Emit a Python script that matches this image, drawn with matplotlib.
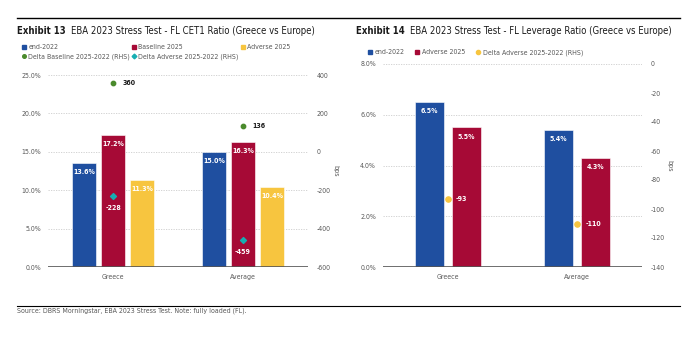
import matplotlib
matplotlib.use("Agg")
import matplotlib.pyplot as plt
from matplotlib import font_manager as fm
from matplotlib.lines import Line2D
import numpy as np

# ---------------- data ----------------
categories = ["Greece", "Average"]
cet1_end2022 = [13.6, 15.0]
cet1_baseline2025 = [17.2, 16.3]
cet1_adverse2025 = [11.3, 10.4]
cet1_delta_baseline = [360, 136]
cet1_delta_adverse = [-228, -459]

lev_end2022 = [6.5, 5.4]
lev_adverse2025 = [5.5, 4.3]
lev_delta_adverse = [-93, -110]

cet1_left_ticks = [0, 5, 10, 15, 20, 25]
cet1_right_ticks = [-600, -400, -200, 0, 200, 400]
lev_left_ticks = [0, 2, 4, 6, 8]
lev_right_ticks = [-140, -120, -100, -80, -60, -40, -20, 0]

# ---------------- font choice (prefer a narrow face) ----------------
entries = [(f.name, str(f.stretch)) for f in fm.fontManager.ttflist]
names = {n for n, _ in entries}
if "Liberation Sans Narrow" in names:
    plt.rcParams['font.family'] = ['Liberation Sans Narrow', 'DejaVu Sans']
elif any(n == "DejaVu Sans" and "condensed" in s for n, s in entries):
    plt.rcParams['font.family'] = ['DejaVu Sans']
    plt.rcParams['font.stretch'] = 'condensed'
elif "Liberation Sans" in names:
    plt.rcParams['font.family'] = ['Liberation Sans', 'DejaVu Sans']
else:
    plt.rcParams['font.family'] = ['DejaVu Sans']

# ---------------- style ----------------
BLUE = "#1F4FA0"
RED = "#A60A36"
YELLOW = "#F7C53F"
GREEN = "#4A8A2C"
TEAL = "#16AEB2"
GRAY = "#595959"
DARK = "#1A1A1A"

W, H = 698, 337
fig = plt.figure(figsize=(W / 100, H / 100), dpi=100)
renderer = fig.canvas.get_renderer()

# measure the font so the title spans the reference width (~240 px)
_probe = fig.text(0, 0, "EBA 2023 Stress Test - FL CET1 Ratio (Greece vs Europe)", fontsize=7.6)
_w = _probe.get_window_extent(renderer).width
_probe.remove()
k = 240.0 / _w
TFS = 7.6 * min(1.15, max(0.7, k))
FS = 5.6 * min(1.1, max(0.85, k))


def fx(px):
    return px / W


def fy(py):
    return 1 - py / H


def style_axes(ax, ax2, lticks, rticks, lfmt):
    ax.set_yticks(lticks)
    ax.set_yticklabels([lfmt(t) for t in lticks])
    ax2.set_yticks(rticks)
    ax2.set_yticklabels([str(t) for t in rticks])
    for a in (ax, ax2):
        for s in a.spines.values():
            s.set_visible(False)
        a.tick_params(axis='both', length=0, labelsize=FS, colors=GRAY)
    ax.tick_params(axis='y', pad=5)
    ax2.tick_params(axis='y', pad=6)
    ax.tick_params(axis='x', pad=5)
    for t in lticks[1:]:
        ax.axhline(t, color="#CCCCCC", lw=0.6, ls=(0, (1.5, 1.5)), zorder=0)
    ax.axhline(0, color="#555555", lw=1.2, zorder=3)
    ax2.set_ylabel("bps", fontsize=FS, color=GRAY, rotation=270, labelpad=6)


# ---------------- left chart: CET1 ----------------
axL = fig.add_axes([fx(48), fy(267), fx(260), (267 - 75) / H])
axL2 = axL.twinx()
x = np.arange(len(categories))
bw = 0.18
off = 0.222
series = [(cet1_end2022, BLUE, -off), (cet1_baseline2025, RED, 0), (cet1_adverse2025, YELLOW, off)]
for vals, col, o in series:
    bars = axL.bar(x + o, vals, bw, color=col, edgecolor="white", linewidth=0.4, zorder=2)
    for b, v in zip(bars, vals):
        axL.annotate(f"{v:.1f}%", (b.get_x() + b.get_width() / 2, v), xytext=(0, -4.5),
                     textcoords="offset points", ha="center", va="top",
                     fontsize=FS, color="white", fontweight="bold", zorder=5)
axL.set_xlim(-0.5, 1.5)
axL.set_ylim(0, 25)
axL2.set_ylim(-600, 400)
axL.set_xticks(x)
axL.set_xticklabels(categories)
style_axes(axL, axL2, cet1_left_ticks, cet1_right_ticks, lambda t: f"{t:.1f}%")

axL2.scatter(x, cet1_delta_baseline, s=10, color=GREEN, marker="o", zorder=6)
axL2.scatter(x, cet1_delta_adverse, s=9, color=TEAL, marker="D", zorder=6)
for xi, v in zip(x, cet1_delta_baseline):
    axL2.annotate(f"{v}", (xi, v), xytext=(7, 0), textcoords="offset points",
                  ha="left", va="center", fontsize=FS, color=DARK, fontweight="bold")
for xi, v in zip(x, cet1_delta_adverse):
    axL2.annotate(f"{v}", (xi, v), xytext=(0, -6.5), textcoords="offset points",
                  ha="center", va="top", fontsize=FS, color="white", fontweight="bold")

# ---------------- right chart: leverage ----------------
axR = fig.add_axes([fx(383), fy(267), fx(259), (267 - 64) / H])
axR2 = axR.twinx()
bw2 = 0.225
off2 = 0.143
for vals, col, o in [(lev_end2022, BLUE, -off2), (lev_adverse2025, RED, off2)]:
    bars = axR.bar(x + o, vals, bw2, color=col, edgecolor="white", linewidth=0.4, zorder=2)
    for b, v in zip(bars, vals):
        axR.annotate(f"{v:.1f}%", (b.get_x() + b.get_width() / 2, v), xytext=(0, -4.5),
                     textcoords="offset points", ha="center", va="top",
                     fontsize=FS, color="white", fontweight="bold", zorder=5)
axR.set_xlim(-0.5, 1.5)
axR.set_ylim(0, 8)
axR2.set_ylim(-140, 0)
axR.set_xticks(x)
axR.set_xticklabels(categories)
style_axes(axR, axR2, lev_left_ticks, lev_right_ticks, lambda t: f"{t:.1f}%")
axR2.scatter(x, lev_delta_adverse, s=14, color=YELLOW, marker="o", zorder=6)
for xi, v in zip(x, lev_delta_adverse):
    axR2.annotate(f"{v}", (xi, v), xytext=(6, 0), textcoords="offset points",
                  ha="left", va="center", fontsize=FS, color="white", fontweight="bold")

# ---------------- titles, lines, legends ----------------
fig.add_artist(Line2D([fx(17), fx(680)], [fy(18), fy(18)], color="black", lw=1.0))
fig.add_artist(Line2D([fx(17), fx(680)], [fy(305.5), fy(305.5)], color="black", lw=0.8))


def title(xpx, num, text):
    t1 = fig.text(fx(xpx), fy(31), num, fontsize=TFS, fontweight="bold", color=DARK, va="center")
    w1 = t1.get_window_extent(renderer).width
    fig.text(fx(xpx + w1 + 5), fy(31), text, fontsize=TFS, color=DARK, va="center")


title(17, "Exhibit 13", "EBA 2023 Stress Test - FL CET1 Ratio (Greece vs Europe)")
title(356, "Exhibit 14", "EBA 2023 Stress Test - FL Leverage Ratio (Greece vs Europe)")
fig.text(fx(17), fy(311), "Source: DBRS Morningstar, EBA 2023 Stress Test. Note: fully loaded (FL).",
         fontsize=FS, color=GRAY, va="center")


def h(marker, col, ms=3.2):
    return Line2D([], [], marker=marker, color=col, ls="none", markersize=ms)


legL_handles = [h("s", BLUE), h("o", GREEN, 2.6), h("s", RED), h("D", TEAL, 2.4), h("s", YELLOW)]
legL_labels = ["end-2022", "Delta Baseline 2025-2022 (RHS)", "Baseline 2025",
               "Delta Adverse 2025-2022 (RHS)", "Adverse 2025"]
legL = fig.legend(legL_handles, legL_labels, loc="upper left", bbox_to_anchor=(fx(22), fy(44)),
                  ncol=3, frameon=False, fontsize=FS, handlelength=0.5, handletextpad=0.4,
                  columnspacing=0.3, borderaxespad=0, borderpad=0, labelspacing=0.55)
for t in legL.get_texts():
    t.set_color(GRAY)

legR_handles = [h("s", BLUE), h("s", RED), h("o", YELLOW, 3.0)]
legR_labels = ["end-2022", "Adverse 2025", "Delta Adverse 2025-2022 (RHS)"]
legR = fig.legend(legR_handles, legR_labels, loc="upper left", bbox_to_anchor=(fx(368), fy(49)),
                  ncol=3, frameon=False, fontsize=FS, handlelength=0.5, handletextpad=0.4,
                  columnspacing=1.6, borderaxespad=0, borderpad=0)
for t in legR.get_texts():
    t.set_color(GRAY)

fig.savefig("out.png", dpi=100)
